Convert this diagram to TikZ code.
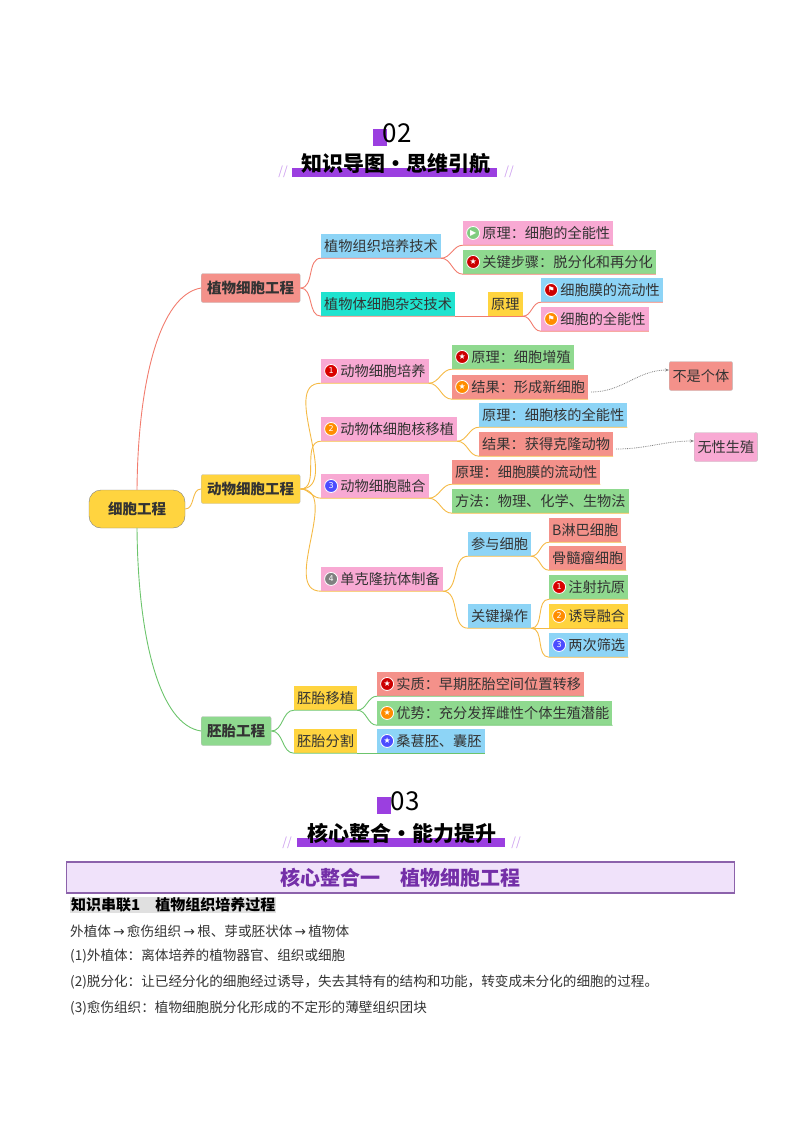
\documentclass[tikz,border=0pt]{standalone}
\usepackage{fontspec}
\usetikzlibrary{arrows.meta}
\setmainfont{Noto Sans CJK SC}
\newfontfamily\dejavu{DejaVu Sans}
\definecolor{salmon}{HTML}{F4918A}
\definecolor{pinkbox}{HTML}{F8A9D3}
\definecolor{greenbox}{HTML}{8FD98F}
\definecolor{bluebox}{HTML}{8DD4F6}
\definecolor{yellowbox}{HTML}{FFD43F}
\definecolor{tealbox}{HTML}{1FE3CF}
\definecolor{lnred}{HTML}{F27C6E}
\definecolor{lnorange}{HTML}{F5BA45}
\definecolor{lngreen}{HTML}{6CC46C}
\definecolor{purp}{HTML}{9B3FE0}
\definecolor{txt}{HTML}{333333}
\newcommand\ico[2]{\tikz[baseline=-0.75ex]\node[circle,fill=#1,draw=white,line width=0.8pt,inner sep=0pt,minimum size=13pt,text=white,font=\fontsize{8}{8}\selectfont\dejavu]{#2};\,}
\tikzset{
  box/.style={rectangle,inner xsep=3pt,minimum height=24pt,anchor=west,text=txt,font=\fontsize{14.2}{16}\selectfont},
  main/.style={box,rounded corners=2pt,draw=black!25,minimum height=29pt,inner xsep=6pt,font=\fontsize{14.5}{16}\selectfont\bfseries},
  redln/.style={draw=lnred,line width=0.9pt},
  orln/.style={draw=lnorange,line width=0.9pt},
  grln/.style={draw=lngreen,line width=0.9pt},
  note/.style={draw=black!25,rounded corners=2pt,minimum height=29pt,anchor=west,text=txt,font=\fontsize{14.2}{16}\selectfont},
  hint/.style={gray,densely dotted,line width=0.8pt,-{Stealth[length=4pt]}}
}
\newcommand\link[3]{\draw[#1] (#2) to[out=0,in=180] (#3.south west) -- (#3.south east);}
\begin{document}
\begin{tikzpicture}[x=1pt,y=-1pt]
\useasboundingbox (0,0) rectangle (800,1132);

% headers
\fill[purp] (373,129) rectangle (387,146);
\node (h02) at (397,133) {\fontsize{26}{26}\selectfont 02};
\fill[purp] (292,168) rectangle (497,177);
\node[font=\fontsize{21}{21}\selectfont\bfseries] (t02) at (396,164) {知识导图•思维引航};
\node[purp!50,font=\fontsize{12}{12}\selectfont\itshape] at (283,172) {//};
\node[purp!50,font=\fontsize{12}{12}\selectfont\itshape] at (509,172) {//};

% root and branches
\node[main,rounded corners=12pt,fill=yellowbox,draw=gray,minimum width=96pt,minimum height=38pt,anchor=center] (root) at (137,509) {细胞工程};
\node[main,fill=salmon] (plant) at (201,288) {植物细胞工程};
\node[main,fill=yellowbox] (anim) at (201,489) {动物细胞工程};
\node[main,fill=greenbox] (embr) at (201,731) {胚胎工程};
\draw[redln] (root.north) .. controls (138,380) and (160,295) .. (plant.west);
\draw[orln] (root.east) to[out=0,in=180] (anim.west);
\draw[grln] (root.south) .. controls (138,640) and (160,725) .. (embr.west);

% plant cell engineering
\node[box,fill=bluebox] (pt) at (321,246) {植物组织培养技术};
\node[box,fill=tealbox] (ph) at (321,304) {植物体细胞杂交技术};
\node[box,fill=yellowbox] (phy) at (488,304) {原理};
\node[box,fill=pinkbox] (pt1) at (463,233) {\ico{green!60!black!50!white}{▶}原理：细胞的全能性};
\node[box,fill=greenbox] (pt2) at (463,262) {\ico{red!80!black}{★}关键步骤：脱分化和再分化};
\node[box,fill=bluebox] (ph1) at (541,290) {\ico{red!80!black}{⚑}细胞膜的流动性};
\node[box,fill=pinkbox] (ph2) at (541,319) {\ico{orange!90!yellow}{⚑}细胞的全能性};
\link{redln}{plant.east}{pt}
\link{redln}{plant.east}{ph}
\draw[redln] (ph.south east) -- (phy.south east);
\link{redln}{pt.south east}{pt1}
\link{redln}{pt.south east}{pt2}
\link{redln}{phy.south east}{ph1}
\link{redln}{phy.south east}{ph2}

% animal cell engineering
\node[box,fill=pinkbox] (a1) at (321,371) {\ico{red!85!black}{1}动物细胞培养};
\node[box,fill=pinkbox] (a2) at (321,429) {\ico{orange!90!yellow}{2}动物体细胞核移植};
\node[box,fill=pinkbox] (a3) at (321,486) {\ico{blue!70}{3}动物细胞融合};
\node[box,fill=pinkbox] (a4) at (321,579) {\ico{gray}{4}单克隆抗体制备};
\node[box,fill=greenbox] (a11) at (452,357) {\ico{red!80!black}{★}原理：细胞增殖};
\node[box,fill=salmon] (a12) at (452,387) {\ico{orange!90!yellow}{★}结果：形成新细胞};
\node[note,fill=salmon] (n1) at (669,376) {不是个体};
\node[box,fill=bluebox] (a21) at (479,415) {原理：细胞核的全能性};
\node[box,fill=salmon] (a22) at (479,444) {结果：获得克隆动物};
\node[note,fill=pinkbox] (n2) at (694,447) {无性生殖};
\node[box,fill=salmon] (a31) at (452,472) {原理：细胞膜的流动性};
\node[box,fill=greenbox] (a32) at (452,501) {方法：物理、化学、生物法};
\node[box,fill=bluebox] (a41) at (468,544) {参与细胞};
\node[box,fill=bluebox] (a42) at (468,616) {关键操作};
\node[box,fill=salmon] (b1) at (549,530) {B淋巴细胞};
\node[box,fill=salmon] (b2) at (549,558) {骨髓瘤细胞};
\node[box,fill=greenbox] (c1) at (549,587) {\ico{red!85!black}{1}注射抗原};
\node[box,fill=yellowbox] (c2) at (549,616) {\ico{orange!90!yellow}{2}诱导融合};
\node[box,fill=bluebox] (c3) at (549,645) {\ico{blue!70}{3}两次筛选};
\foreach \c in {a1,a2,a3,a4} {\link{orln}{anim.east}{\c}}
\foreach \c in {a11,a12} {\link{orln}{a1.south east}{\c}}
\foreach \c in {a21,a22} {\link{orln}{a2.south east}{\c}}
\foreach \c in {a31,a32} {\link{orln}{a3.south east}{\c}}
\foreach \c in {a41,a42} {\link{orln}{a4.south east}{\c}}
\foreach \c in {b1,b2} {\link{orln}{a41.south east}{\c}}
\foreach \c in {c1,c2,c3} {\link{orln}{a42.south east}{\c}}
\draw[hint] ([shift={(3pt,-5pt)}]a12.east) to[out=0,in=180] ([yshift=6pt]n1.west);
\draw[hint] ([shift={(3pt,-5pt)}]a22.east) to[out=0,in=180] ([yshift=6pt]n2.west);

% embryo engineering
\node[box,fill=yellowbox] (e1) at (294,698) {胚胎移植};
\node[box,fill=yellowbox] (e2) at (294,741) {胚胎分割};
\node[box,fill=salmon] (e11) at (377,684) {\ico{red!80!black}{★}实质：早期胚胎空间位置转移};
\node[box,fill=greenbox] (e12) at (377,713) {\ico{orange!90!yellow}{★}优势：充分发挥雌性个体生殖潜能};
\node[box,fill=bluebox] (e21) at (377,741) {\ico{blue!70}{★}桑葚胚、囊胚};
\foreach \c in {e1,e2} {\link{grln}{embr.east}{\c}}
\foreach \c in {e11,e12} {\link{grln}{e1.south east}{\c}}
\link{grln}{e2.south east}{e21}

% section 03
\fill[purp] (377,797) rectangle (391,814);
\node (h03) at (405,801) {\fontsize{26}{26}\selectfont 03};
\fill[purp] (297,838) rectangle (505,847);
\node[font=\fontsize{21}{21}\selectfont\bfseries] (t03) at (402,833) {核心整合•能力提升};
\node[purp!50,font=\fontsize{12}{12}\selectfont\itshape] at (287,843) {//};
\node[purp!50,font=\fontsize{12}{12}\selectfont\itshape] at (516,843) {//};
\node[draw=purp!45!gray,line width=1.5pt,fill=purp!15,minimum width=668pt,minimum height=31pt,text=purp!75!black,font=\fontsize{20}{20}\selectfont\bfseries] (sec) at (400.5,877.5) {核心整合一\quad 植物细胞工程};
\node[anchor=west,fill=black!12,inner sep=1pt,font=\fontsize{15}{15}\selectfont\bfseries] (k1) at (70,905) {知识串联1\quad 植物组织培养过程};
\begin{scope}[every node/.style={anchor=west,inner sep=0pt,text=txt,font=\fontsize{13.6}{14}\selectfont}]
\node (l1) at (70,931) {外植体\,{\dejavu →}\,愈伤组织\,{\dejavu →}\,根、芽或胚状体\,{\dejavu →}\,植物体};
\node (l2) at (70,956) {(1)外植体：离体培养的植物器官、组织或细胞};
\node (l3) at (70,982) {(2)脱分化：让已经分化的细胞经过诱导，失去其特有的结构和功能，转变成未分化的细胞的过程。};
\node (l4) at (70,1008) {(3)愈伤组织：植物细胞脱分化形成的不定形的薄壁组织团块};
\end{scope}
\end{tikzpicture}
\end{document}
